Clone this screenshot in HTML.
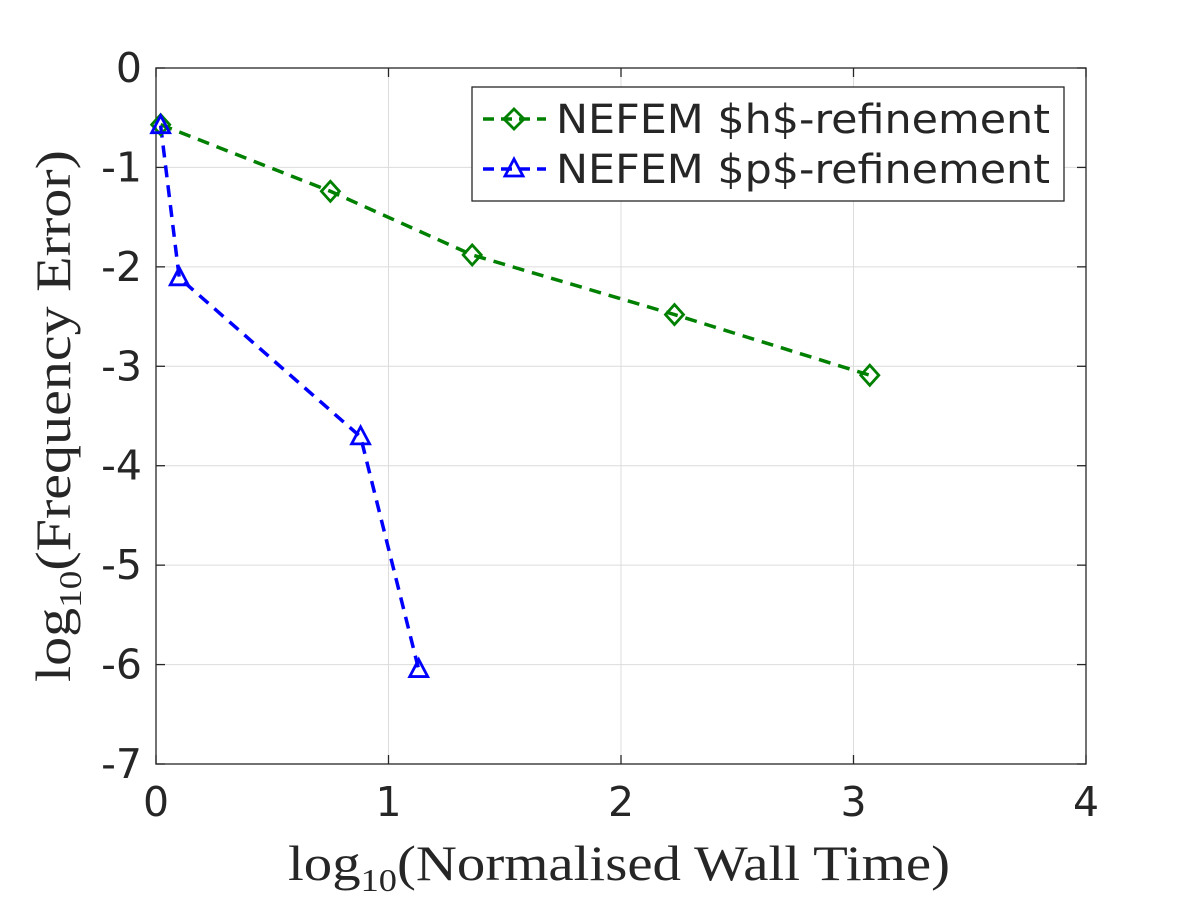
<!DOCTYPE html>
<html><head><meta charset="utf-8"><style>
body{margin:0;background:#fff;}
svg text{font-family:"DejaVu Sans","Liberation Sans",sans-serif;fill:#262626;}
.serif{font-family:"Liberation Serif","DejaVu Serif",serif !important;}
</style></head><body>
<svg id="chart" width="1200" height="900" xmlns="http://www.w3.org/2000/svg">
<rect width="1200" height="900" fill="#fff"/>
<g id="grid"></g>
<g id="axes"></g>
<g id="series"></g>
<text class="serif" x="288" y="880" font-size="50" textLength="662" lengthAdjust="spacingAndGlyphs">log<tspan font-size="32" dy="11">10</tspan><tspan dy="-11">(Normalised Wall Time)</tspan></text>
<text class="serif" transform="translate(70,682) rotate(-90)" font-size="50" textLength="532" lengthAdjust="spacingAndGlyphs">log<tspan font-size="32" dy="11">10</tspan><tspan dy="-11">(Frequency Error)</tspan></text>
<g>
<rect x="472" y="87" width="592" height="114" fill="#fff" stroke="#262626" stroke-width="1.3"/>
<g>
<line x1="483" y1="119" x2="546" y2="119" stroke="#008000" stroke-width="3.5" stroke-dasharray="11,7"/>
<path d="M514,109 L524,119 L514,129 L504,119 Z" fill="none" stroke="#008000" stroke-width="2.8"/>
<text x="556" y="133" font-size="40" textLength="494" lengthAdjust="spacingAndGlyphs">NEFEM $h$-refinement</text></g>
<g>
<line x1="483" y1="169" x2="546" y2="169" stroke="#0000ff" stroke-width="3.5" stroke-dasharray="11,7"/>
<path d="M514,159 L523,176 L505,176 Z" fill="none" stroke="#0000ff" stroke-width="2.8"/>
<text x="556" y="183" font-size="40" textLength="494" lengthAdjust="spacingAndGlyphs">NEFEM $p$-refinement</text></g>
</g>
</svg>
<script>
const xTicks=[0,1,2,3,4];
const yTicks=[0,-1,-2,-3,-4,-5,-6,-7];
const hX=[0.02,0.75,1.36,2.23,3.07];
const hY=[-0.57,-1.24,-1.88,-2.48,-3.09];
const pX=[0.02,0.10,0.88,1.13];
const pY=[-0.58,-2.11,-3.71,-6.05];
const L=156,R=1086,T=68,B=764;
const sx=v=>L+(v-0)/(4-0)*(R-L);
const sy=v=>T+(0-v)/(0-(-7))*(B-T);
const NS="http://www.w3.org/2000/svg";
function mk(tag,attrs,parent){const e=document.createElementNS(NS,tag);for(const k in attrs)e.setAttribute(k,attrs[k]);parent.appendChild(e);return e;}
const grid=document.getElementById('grid'),axes=document.getElementById('axes'),ser=document.getElementById('series');
xTicks.forEach(t=>{const x=sx(t);
const g=mk('line',{x1:x,x2:x,y1:T,y2:B,stroke:'#dcdcdc','stroke-width':1},grid);


mk('line',{x1:x,x2:x,y1:B,y2:B-9,stroke:'#262626','stroke-width':1.3},axes);
mk('line',{x1:x,x2:x,y1:T,y2:T+9,stroke:'#262626','stroke-width':1.3},axes);
const tx=mk('text',{x:x,y:B+52,'font-size':41,'text-anchor':'middle'},axes);tx.textContent=t;


});
yTicks.forEach(t=>{const y=sy(t);
const g=mk('line',{x1:L,x2:R,y1:y,y2:y,stroke:'#dcdcdc','stroke-width':1},grid);


mk('line',{x1:L,x2:L+9,y1:y,y2:y,stroke:'#262626','stroke-width':1.3},axes);
mk('line',{x1:R,x2:R-9,y1:y,y2:y,stroke:'#262626','stroke-width':1.3},axes);
const tx=mk('text',{x:L-14,y:y+14,'font-size':41,'text-anchor':'end'},axes);tx.textContent=t;


});
mk('rect',{x:L,y:T,width:R-L,height:B-T,fill:'none',stroke:'#262626','stroke-width':1.3},axes);
function line(xs,ys,col,name){
const l=mk('polyline',{points:xs.map((v,i)=>sx(v)+','+sy(ys[i])).join(' '),fill:'none',stroke:col,'stroke-width':3.5,'stroke-dasharray':'12,8'},ser);


}
line(hX,hY,'#008000','h-refinement-line');
line(pX,pY,'#0000ff','p-refinement-line');
hX.forEach((v,i)=>{const x=sx(v),y=sy(hY[i]);
const m=mk('path',{d:`M${x},${y-10} L${x+9},${y} L${x},${y+10} L${x-9},${y} Z`,fill:'none',stroke:'#008000','stroke-width':2.8},ser);


});
pX.forEach((v,i)=>{const x=sx(v),y=sy(pY[i]);
const m=mk('path',{d:`M${x},${y-10} L${x+9},${y+7} L${x-9},${y+7} Z`,fill:'none',stroke:'#0000ff','stroke-width':2.8},ser);


});
</script>
</body></html>
